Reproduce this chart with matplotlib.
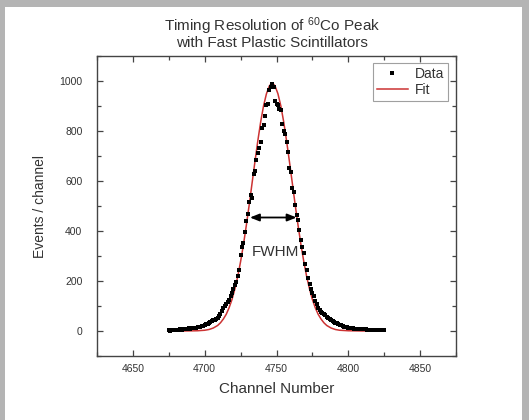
from matplotlib import pyplot as plt
from matplotlib.patches import Rectangle
from matplotlib.ticker import MultipleLocator
import numpy as np

plt.rcParams['font.family'] = ['Liberation Sans', 'DejaVu Sans']
plt.rcParams['mathtext.default'] = 'regular'

# measured counts, one per channel 4675..4825
channels = np.arange(4675, 4826)
counts = [3, 2, 4, 3, 5, 4, 6, 5, 7, 6,
          8, 9, 10, 9, 11, 10, 12, 11, 13, 14,
          16, 17, 18, 20, 22, 25, 27, 30, 33, 36,
          40, 43, 46, 50, 54, 60, 68, 80, 93, 100,
          108, 118, 126, 139, 153, 170, 183, 198, 222, 245,
          306, 335, 352, 396, 440, 470, 518, 545, 531, 628,
          640, 684, 713, 731, 757, 812, 823, 860, 903, 910,
          965, 978, 987, 975, 920, 910, 903, 890, 883, 830,
          800, 790, 757, 717, 651, 637, 571, 558, 505, 465,
          445, 405, 365, 335, 312, 270, 246, 212, 188, 168,
          153, 139, 122, 108, 94, 86, 78, 73, 68, 63,
          57, 52, 47, 43, 40, 36, 33, 31, 28, 26,
          23, 20, 18, 17, 15, 14, 13, 12, 11, 10,
          9, 9, 8, 8, 7, 8, 7, 7, 6, 6,
          5, 6, 5, 5, 4, 5, 4, 4, 3, 4, 3]

# fit curve
fit_x = [4675, 4685, 4695, 4700, 4703, 4706, 4709, 4711, 4713, 4715,
         4717, 4719, 4721, 4723, 4725, 4727, 4729, 4731, 4733, 4735,
         4737, 4739, 4741, 4743, 4745, 4746, 4747, 4748, 4749, 4751,
         4753, 4755, 4757, 4759, 4761, 4763, 4765, 4767, 4769, 4771,
         4773, 4775, 4777, 4779, 4781, 4783, 4785, 4788, 4791, 4794,
         4800, 4810, 4825]
fit_y = [0, 0, 1, 3, 6, 12, 22, 33, 48, 67,
         93, 126, 168, 218, 278, 346, 423, 505, 592, 678,
         761, 837, 901, 949, 980, 987, 990, 987, 980, 949,
         901, 837, 761, 678, 592, 505, 423, 346, 278, 218,
         168, 126, 93, 67, 48, 33, 22, 12, 6, 3,
         1, 0, 0]

fwhm_left, fwhm_right, fwhm_level = 4731.5, 4764.0, 454

text_col = '#333333'
spine_col = '#444444'

fig = plt.figure(figsize=(5.29, 4.2), dpi=100)
fig.patch.set_facecolor('#b4b4b4')
fig.add_artist(Rectangle((5 / 529, 0), 517 / 529, 413 / 420, transform=fig.transFigure,
                         facecolor='white', edgecolor='none', zorder=-1))

ax = fig.add_axes([97 / 529, 1 - 356 / 420, 359 / 529, 300 / 420])
ax.plot(channels, counts, 's', color='black', markersize=2.5, markeredgewidth=0,
        label='Data', zorder=3)
ax.plot(fit_x, fit_y, '-', color='#cc3333', lw=1.1, label='Fit', zorder=2)

ax.annotate('', xy=(fwhm_left, fwhm_level), xytext=(fwhm_right, fwhm_level),
            arrowprops=dict(arrowstyle='<|-|>,head_length=0.55,head_width=0.22',
                            color='black', lw=1.3, shrinkA=0, shrinkB=0))
ax.text(4749, 317, 'FWHM', ha='center', va='center', fontsize=11, color=text_col)

ax.set_xlim(4625, 4875)
ax.set_ylim(-100, 1100)
ax.set_xticks([4650, 4700, 4750, 4800, 4850])
ax.set_yticks([0, 200, 400, 600, 800, 1000])
ax.xaxis.set_minor_locator(MultipleLocator(25))
ax.yaxis.set_minor_locator(MultipleLocator(100))
ax.tick_params(which='both', direction='in', top=True, right=True, colors=spine_col,
               labelcolor=text_col, labelsize=7.5, width=0.9)
ax.tick_params(which='major', length=4.5)
ax.tick_params(which='minor', length=2.7)
ax.tick_params(axis='y', pad=10.5)
ax.tick_params(axis='x', pad=5.5)
for s in ax.spines.values():
    s.set_color(spine_col)
    s.set_linewidth(1.0)

ax.set_xlabel('Channel Number', fontsize=11, color=text_col, labelpad=6)
ax.set_ylabel('Events / channel', fontsize=10, color=text_col, labelpad=9)

fig.text(272 / 529, 1 - 26 / 420, r'Timing Resolution of $^{60}$Co Peak',
         ha='center', va='center', fontsize=11, color=text_col)
fig.text(272 / 529, 1 - 43 / 420, 'with Fast Plastic Scintillators',
         ha='center', va='center', fontsize=11, color=text_col)

leg = ax.legend(loc='upper right', bbox_to_anchor=((448 - 97) / 359, 1 - (63 - 56) / 300),
                borderaxespad=0, fontsize=10, frameon=True, fancybox=False,
                handlelength=2.2, handletextpad=0.5, borderpad=0.3, labelspacing=0.1,
                markerscale=1.0)
leg.get_frame().set_edgecolor('#888888')
leg.get_frame().set_linewidth(0.8)
for t in leg.get_texts():
    t.set_color(text_col)

plt.savefig('out.png', dpi=100)
